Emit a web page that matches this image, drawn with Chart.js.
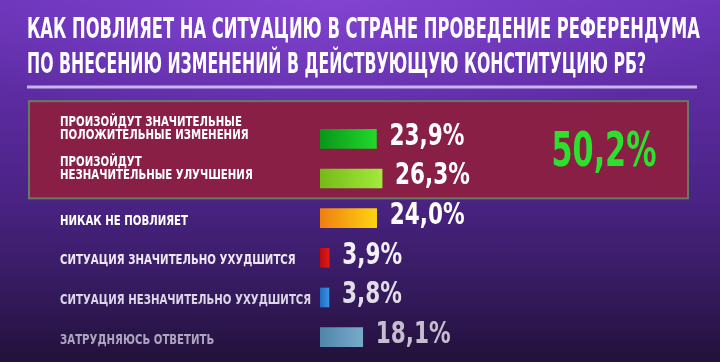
<!DOCTYPE html>
<html>
<head>
<meta charset="utf-8">
<script src="https://cdn.jsdelivr.net/npm/chart.js@4.4.1/dist/chart.umd.min.js"></script>
<style>
  html, body { margin: 0; padding: 0; }
  body {
    width: 720px; height: 362px; overflow: hidden;
    background:
      radial-gradient(ellipse 420px 140px at 330px 0px, rgba(150, 80, 230, 0.55), rgba(150, 80, 230, 0) 100%),
      linear-gradient(180deg, #6a34b8 0%, #5a2a9e 30%, #4a2384 55%, #351a5e 80%, #22113a 100%);
  }
  #wrap { position: relative; width: 720px; height: 362px; }
</style>
</head>
<body>
<div id="wrap"><canvas id="myChart" width="720" height="362"></canvas></div>
<script>
// Survey answers, in percent
var titleLines = [
  'КАК ПОВЛИЯЕТ НА СИТУАЦИЮ В СТРАНЕ ПРОВЕДЕНИЕ РЕФЕРЕНДУМА',
  'ПО ВНЕСЕНИЮ ИЗМЕНЕНИЙ В ДЕЙСТВУЮЩУЮ КОНСТИТУЦИЮ РБ?'
];
var answers = [
  ['ПРОИЗОЙДУТ ЗНАЧИТЕЛЬНЫЕ', 'ПОЛОЖИТЕЛЬНЫЕ ИЗМЕНЕНИЯ'],
  ['ПРОИЗОЙДУТ', 'НЕЗНАЧИТЕЛЬНЫЕ УЛУЧШЕНИЯ'],
  'НИКАК НЕ ПОВЛИЯЕТ',
  'СИТУАЦИЯ ЗНАЧИТЕЛЬНО УХУДШИТСЯ',
  'СИТУАЦИЯ НЕЗНАЧИТЕЛЬНО УХУДШИТСЯ',
  'ЗАТРУДНЯЮСЬ ОТВЕТИТЬ'
];
var shares = [23.9, 26.3, 24.0, 3.9, 3.8, 18.1];
var shareLabels = ['23,9%', '26,3%', '24,0%', '3,9%', '3,8%', '18,1%'];
var positiveTotal = '50,2%';

var barFrom = ['#08961a', '#74bb18', '#ef7e12', '#b80c10', '#1e6cc0', '#4f86aa'];
var barTo   = ['#22d82a', '#a2ea3c', '#ffd410', '#e01a1a', '#3a92e0', '#78aac8'];
var labelColors = ['#ffffff', '#ffffff', '#ffffff', '#ece8f2', '#dcd6e6', '#aea4c0'];
var valueColors = ['#ffffff', '#ffffff', '#ffffff', '#f2f0f6', '#e2dee8', '#c4bece'];

var narrow = "'DejaVu Sans Condensed', 'DejaVu Sans', sans-serif";

// draw text squeezed horizontally, like a condensed poster font
function squeezed(c, text, x, y, sx) {
  c.save();
  c.translate(x, y);
  c.scale(sx, 1);
  c.fillText(text, 0, 0);
  c.restore();
}

// highlighted box behind the first two answers
var box = {
  id: 'box',
  beforeDatasetsDraw: function (chart) {
    var c = chart.ctx, y = chart.scales.y;
    var step = y.getPixelForValue(1) - y.getPixelForValue(0);
    var top = y.getPixelForValue(0) - step * 0.95;
    var bottom = y.getPixelForValue(1) + step * 0.5;
    c.save();
    c.fillStyle = '#8a1f45';
    c.fillRect(29, top, 659, bottom - top);
    c.strokeStyle = '#667a68';
    c.lineWidth = 2;
    c.strokeRect(29, top, 659, bottom - top);
    c.restore();
  }
};

// title, answer labels, values and the combined positive share
var texts = {
  id: 'texts',
  afterDraw: function (chart) {
    var c = chart.ctx, y = chart.scales.y;
    c.save();
    c.fillStyle = '#ffffff';
    c.font = 'bold 29px ' + narrow;
    c.textBaseline = 'alphabetic';
    c.fillText(titleLines[0], 27, 38, 673);
    c.fillText(titleLines[1], 27, 73, 619);
    c.strokeStyle = '#c8b6f2';
    c.lineWidth = 3;
    c.beginPath();
    c.moveTo(27, 87);
    c.lineTo(697, 87);
    c.stroke();

    c.textBaseline = 'middle';
    c.font = 'bold 14px ' + narrow;
    answers.forEach(function (label, i) {
      var lines = Array.isArray(label) ? label : [label];
      var yc = y.getPixelForValue(i) + (lines.length > 1 ? -10 : 3);
      c.fillStyle = labelColors[i];
      lines.forEach(function (line, k) {
        squeezed(c, line, y.left, yc + (k - (lines.length - 1) / 2) * 13, 0.81);
      });
    });

    var bars = chart.getDatasetMeta(0).data;
    c.font = 'bold 30px ' + narrow;
    bars.forEach(function (bar, i) {
      c.fillStyle = valueColors[i];
      squeezed(c, shareLabels[i], bar.x + 13, bar.y - 2, 0.8);
    });

    c.fillStyle = '#2ee02e';
    c.font = 'bold 48px ' + narrow;
    var w = c.measureText(positiveTotal).width * 0.7;
    squeezed(c, positiveTotal, 604 - w / 2, (y.getPixelForValue(0) + y.getPixelForValue(1)) / 2 - 5, 0.7);
    c.restore();
  }
};

var ctx = document.getElementById('myChart').getContext('2d');

var myChart = new Chart(ctx, {
  type: 'bar',
  data: {
    labels: answers,
    datasets: [{
      data: shares,
      barThickness: 19,
      borderWidth: 0,
      backgroundColor: function (context) {
        var chart = context.chart, area = chart.chartArea;
        if (!area) return barFrom[context.dataIndex];
        var x1 = chart.scales.x.getPixelForValue(shares[context.dataIndex]);
        var g = chart.ctx.createLinearGradient(area.left, 0, Math.max(x1, area.left + 1), 0);
        g.addColorStop(0, barFrom[context.dataIndex]);
        g.addColorStop(1, barTo[context.dataIndex]);
        return g;
      }
    }]
  },
  options: {
    indexAxis: 'y',
    responsive: false,
    animation: false,
    layout: { padding: { top: 119, bottom: 5, left: 60, right: 20 } },
    plugins: {
      legend: { display: false },
      tooltip: { enabled: false }
    },
    scales: {
      x: {
        display: false,
        min: 0,
        max: 161
      },
      y: {
        grid: { display: false },
        border: { display: false },
        afterFit: function (scale) { scale.width = 260; },
        ticks: { display: false }
      }
    }
  },
  plugins: [box, texts]
});
</script>
</body>
</html>
